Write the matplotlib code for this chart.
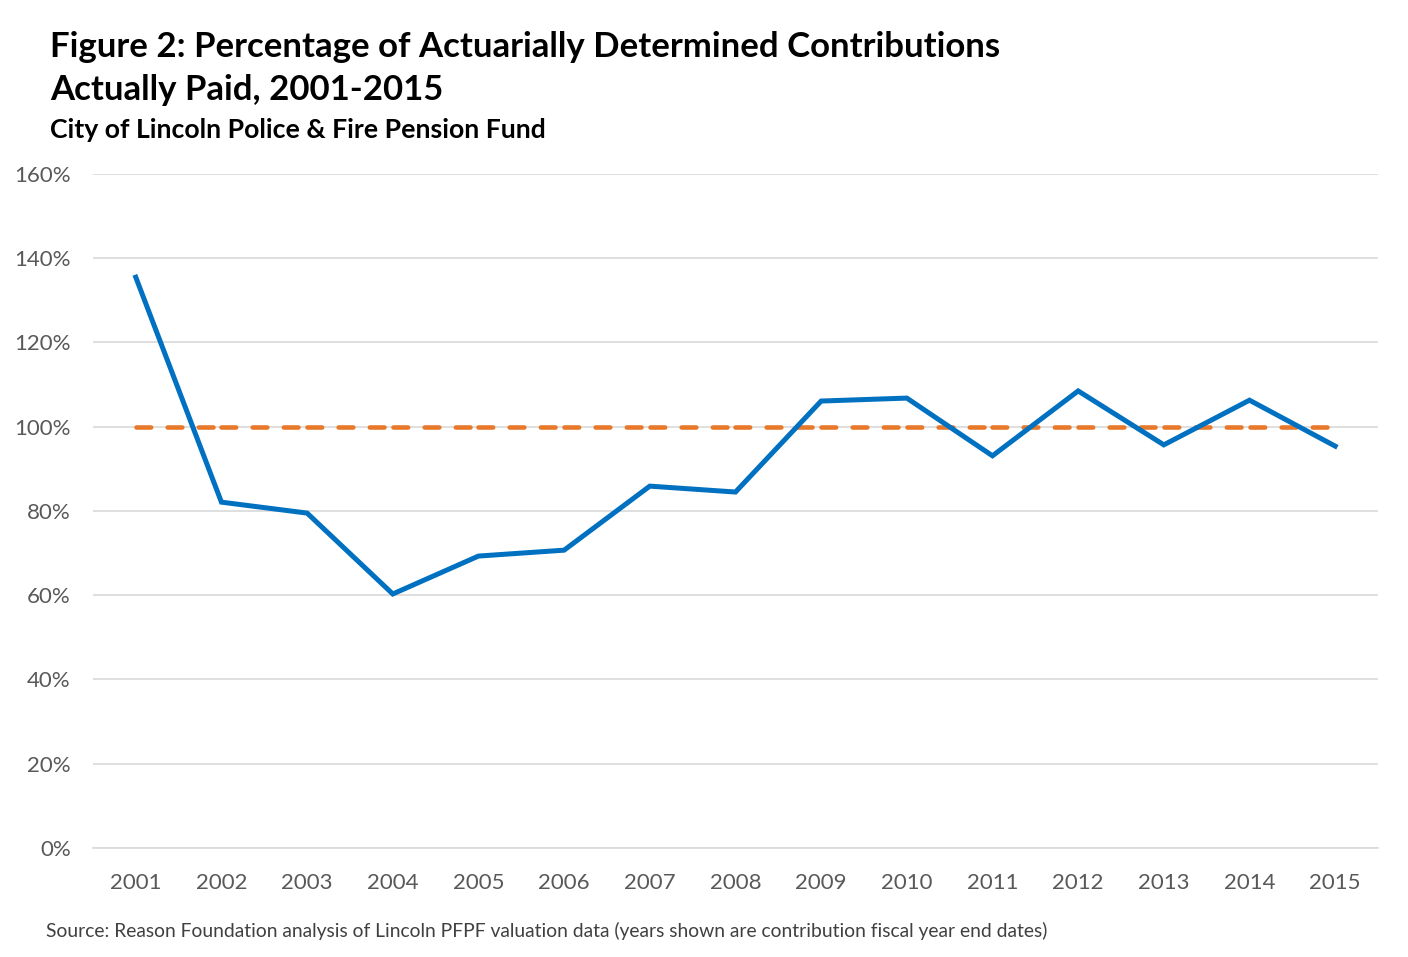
import matplotlib.pyplot as plt
import numpy as np

years = ['2001', '2002', '2003', '2004', '2005', '2006', '2007', '2008',
         '2009', '2010', '2011', '2012', '2013', '2014', '2015']
paid_pct = [135.5, 82.1, 79.5, 60.3, 69.3, 70.7, 85.9, 84.5,
            106.1, 106.8, 93.1, 108.5, 95.7, 106.3, 95.4]
target_pct = [100] * len(years)

plt.rcParams['font.family'] = ['Lato', 'DejaVu Sans']

fig = plt.figure(figsize=(14.08, 9.57), dpi=100)
ax = fig.add_axes([0.066, 0.1139, 0.9127, 0.7043])

x = np.arange(len(years))

# target line drawn per category segment (dash pattern restarts like Excel)
for i in range(len(years) - 1):
    ax.plot(x[i:i + 2], target_pct[i:i + 2], color='#E8792B', lw=3.3,
            dashes=(3.2, 3.6), dash_capstyle='round', zorder=2)

ax.plot(x, paid_pct, color='#0070C0', lw=3.6, solid_joinstyle='miter', zorder=3)

ax.set_xlim(-0.5, len(years) - 0.5)
ax.set_ylim(0, 160)
ax.set_yticks(np.arange(0, 161, 20))
ax.set_yticklabels([f'{v}%' for v in range(0, 161, 20)])
ax.set_xticks(x)
ax.set_xticklabels(years)

ax.grid(axis='y', color='#D9D9D9', lw=1.2, zorder=0)
for s in ['top', 'right', 'left']:
    ax.spines[s].set_visible(False)
ax.spines['bottom'].set_color('#D9D9D9')
ax.spines['bottom'].set_linewidth(1.2)
ax.tick_params(length=0, labelsize=16, labelcolor='#595959')
ax.tick_params(axis='x', pad=18)
ax.tick_params(axis='y', pad=16)

fig.text(0.0355, 0.968, 'Figure 2: Percentage of Actuarially Determined Contributions\nActually Paid, 2001-2015',
         fontsize=25, fontweight='bold', va='top', ha='left', linespacing=1.45)
fig.text(0.0355, 0.864, 'City of Lincoln Police & Fire Pension Fund',
         fontsize=19.2, fontweight='bold', va='center', ha='left')
fig.text(0.033, 0.027, 'Source: Reason Foundation analysis of Lincoln PFPF valuation data (years shown are contribution fiscal year end dates)',
         fontsize=13.9, color='#404040', va='center', ha='left')

plt.savefig('out.png', dpi=100)
plt.close()
